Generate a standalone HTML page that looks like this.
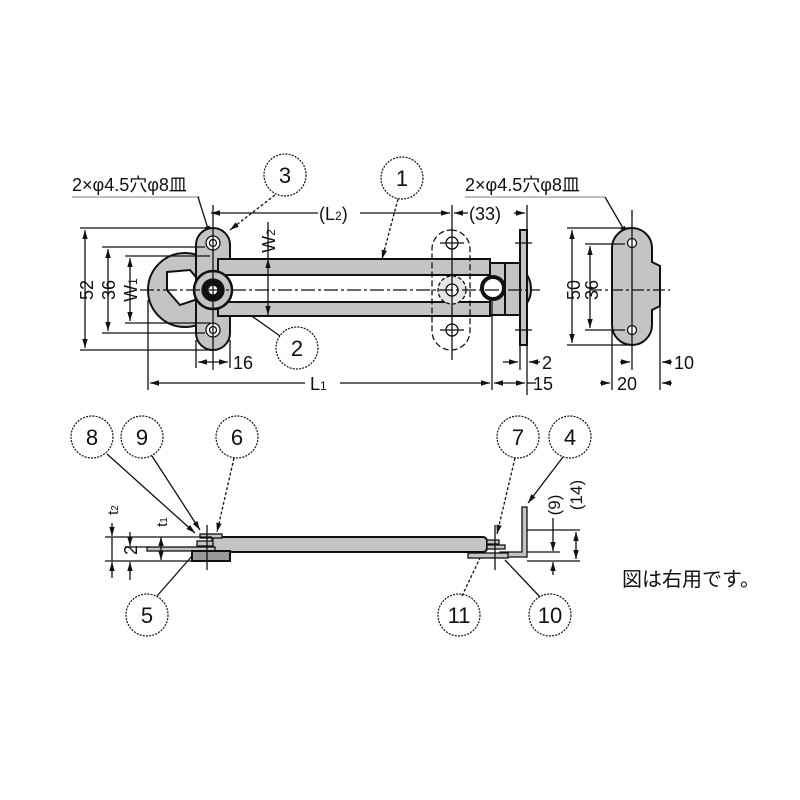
<!DOCTYPE html>
<html><head><meta charset="utf-8"><style>
html,body{margin:0;padding:0;background:#fff;}
svg{display:block;}
text{font-family:"Liberation Sans","Noto Sans CJK JP",sans-serif;fill:#111;}
</style></head><body>
<svg width="800" height="800" viewBox="0 0 800 800" xmlns="http://www.w3.org/2000/svg">
<defs>
<marker id="a" viewBox="0 0 10 10" refX="10" refY="5" markerWidth="7" markerHeight="7" orient="auto-start-reverse"><path d="M0,2 L10,5 L0,8z" fill="#111"/></marker>
</defs>
<g stroke="#111" fill="none" stroke-width="1.3">
<g stroke-dasharray="2,1.2" stroke-width="1.2">
<circle cx="285" cy="175" r="21"/><circle cx="402" cy="178" r="21"/><circle cx="297" cy="348" r="21"/>
<circle cx="92" cy="437" r="21"/><circle cx="142" cy="437" r="21"/><circle cx="237" cy="437" r="21"/>
<circle cx="518" cy="437" r="21"/><circle cx="570" cy="437" r="21"/>
<circle cx="147" cy="615" r="21"/><circle cx="459" cy="615" r="21"/><circle cx="550" cy="615" r="21"/>
</g>
<line x1="72" y1="197" x2="200" y2="197" stroke="#999"/>
<line x1="198" y1="197" x2="210" y2="235" marker-end="url(#a)"/>
<line x1="275" y1="195" x2="230" y2="230" marker-end="url(#a)" stroke-dasharray="3,2"/>
<line x1="398" y1="199" x2="382" y2="259" marker-end="url(#a)" stroke-dasharray="3,2"/>
<line x1="280" y1="336" x2="232" y2="302" marker-end="url(#a)"/>
<line x1="465" y1="197" x2="605" y2="197" stroke="#999"/>
<line x1="605" y1="197" x2="627" y2="235" marker-end="url(#a)"/>

<g stroke-width="2">
<circle cx="185" cy="290" r="37" fill="#c4c4c4"/>
<path d="M167,272 L190,270 L200,282 L195,300 L180,305 L172,296 L167,290z" fill="#fff"/>
<rect x="196" y="228" width="34" height="122" rx="17" fill="#c4c4c4"/>
<rect x="218" y="259" width="272" height="57" fill="#c4c4c4"/>
<rect x="218" y="275" width="272" height="27" fill="#fff"/>
<path d="M490,263 L505,263 A26,26 0 0 1 505,315 L490,315z" fill="#c4c4c4"/>
<rect x="505" y="263" width="15" height="52" fill="#c4c4c4"/>
<rect x="520" y="230" width="7" height="115" fill="#c4c4c4"/>
</g>
<circle cx="493" cy="288" r="11" stroke-width="4" fill="#fff"/>
<circle cx="213" cy="290" r="19" fill="#c4c4c4" stroke-width="2.5"/>
<circle cx="213" cy="290" r="11" fill="#111"/>
<circle cx="213" cy="290" r="5" fill="#fff"/>
<circle cx="213" cy="243" r="7" fill="#fff"/><circle cx="213" cy="243" r="3.5"/>
<circle cx="213" cy="330" r="7" fill="#fff"/><circle cx="213" cy="330" r="3.5"/>
<rect x="432" y="230" width="38" height="120" rx="19" stroke-dasharray="6,3"/>
<circle cx="452" cy="243" r="6"/><circle cx="452" cy="330" r="6"/>
<circle cx="452" cy="290" r="14" stroke-dasharray="4,2" fill="#e6e6e6"/>
<circle cx="452" cy="290" r="6" fill="#fff"/>
<line x1="140" y1="290" x2="540" y2="290" stroke-dasharray="14,3,3,3"/>
<line x1="213" y1="205" x2="213" y2="370"/>
<line x1="452" y1="205" x2="452" y2="360"/>
<line x1="440" y1="243" x2="464" y2="243"/><line x1="440" y1="330" x2="464" y2="330"/>
<line x1="515" y1="243" x2="532" y2="243"/><line x1="515" y1="330" x2="532" y2="330"/>

<line x1="80" y1="228" x2="213" y2="228"/><line x1="80" y1="350" x2="213" y2="350"/>
<line x1="85" y1="230" x2="85" y2="348" marker-start="url(#a)" marker-end="url(#a)"/>
<line x1="102" y1="247" x2="205" y2="247"/><line x1="102" y1="333" x2="205" y2="333"/>
<line x1="108" y1="249" x2="108" y2="331" marker-start="url(#a)" marker-end="url(#a)"/>
<line x1="125" y1="256" x2="210" y2="256"/><line x1="125" y1="323" x2="210" y2="323"/>
<line x1="130" y1="258" x2="130" y2="321" marker-start="url(#a)" marker-end="url(#a)"/>
<line x1="268" y1="259" x2="268" y2="315" marker-start="url(#a)" marker-end="url(#a)"/>
<line x1="268" y1="222" x2="268" y2="259"/>
<line x1="211" y1="213" x2="318" y2="213" marker-start="url(#a)"/><line x1="360" y1="213" x2="450" y2="213" marker-end="url(#a)"/>
<line x1="454" y1="213" x2="468" y2="213" marker-start="url(#a)"/><line x1="514" y1="213" x2="525" y2="213" marker-end="url(#a)"/>
<line x1="527" y1="205" x2="527" y2="395"/>
<line x1="196" y1="340" x2="196" y2="368"/><line x1="230" y1="340" x2="230" y2="368"/>
<line x1="198" y1="362" x2="228" y2="362" marker-start="url(#a)" marker-end="url(#a)"/>
<line x1="148" y1="300" x2="148" y2="390"/>
<line x1="492" y1="300" x2="492" y2="390"/>
<line x1="520" y1="345" x2="520" y2="370"/>
<line x1="150" y1="383" x2="305" y2="383" marker-start="url(#a)"/><line x1="340" y1="383" x2="490" y2="383" marker-end="url(#a)"/>
<line x1="494" y1="383" x2="525" y2="383" marker-start="url(#a)" marker-end="url(#a)"/><line x1="527" y1="383" x2="536" y2="383"/>
<line x1="503" y1="362" x2="518" y2="362" marker-end="url(#a)"/><line x1="540" y1="362" x2="529" y2="362" marker-end="url(#a)"/>

<path d="M632,228 A20,20 0 0 1 652,248 L652,262 L660,266 L660,306 L652,310 L652,325 A20,20 0 0 1 632,345 A20,20 0 0 1 612,325 L612,248 A20,20 0 0 1 632,228z" fill="#c4c4c4" stroke-width="2"/>
<circle cx="632" cy="243" r="4.5" fill="#fff"/><circle cx="632" cy="330" r="4.5" fill="#fff"/>
<line x1="590" y1="290" x2="670" y2="290" stroke-dasharray="12,3,3,3"/>
<line x1="632" y1="210" x2="632" y2="370"/>
<line x1="567" y1="228" x2="632" y2="228"/><line x1="567" y1="345" x2="632" y2="345"/>
<line x1="572" y1="230" x2="572" y2="343" marker-start="url(#a)" marker-end="url(#a)"/>
<line x1="585" y1="244" x2="625" y2="244"/><line x1="585" y1="330" x2="625" y2="330"/>
<line x1="590" y1="246" x2="590" y2="328" marker-start="url(#a)" marker-end="url(#a)"/>
<line x1="612" y1="330" x2="612" y2="390"/><line x1="660" y1="300" x2="660" y2="390"/>
<line x1="620" y1="362" x2="630" y2="362" marker-end="url(#a)"/><line x1="672" y1="362" x2="662" y2="362" marker-end="url(#a)"/>
<line x1="600" y1="383" x2="610" y2="383" marker-end="url(#a)"/><line x1="672" y1="383" x2="662" y2="383" marker-end="url(#a)"/>

<rect x="212" y="537" width="275" height="15" rx="4" fill="#c4c4c4" stroke-width="2"/>
<rect x="147" y="547" width="68" height="4" fill="#c4c4c4"/>
<rect x="192" y="551" width="38" height="10" fill="#999" stroke-width="2"/>
<rect x="197" y="541" width="16" height="5" fill="#c4c4c4"/>
<rect x="200" y="534" width="22" height="4" fill="#c4c4c4"/>
<line x1="207" y1="525" x2="207" y2="570"/>
<path d="M522,507 L527,507 L527,557 L500,557 L500,552 L522,552z" fill="#c4c4c4"/>
<rect x="468" y="553" width="40" height="5" fill="#c4c4c4"/>
<rect x="487" y="540" width="12" height="4" fill="#c4c4c4"/>
<rect x="487" y="545" width="18" height="4" fill="#c4c4c4"/>
<line x1="495" y1="525" x2="495" y2="570"/>
<line x1="107" y1="454" x2="195" y2="533" marker-end="url(#a)"/>
<line x1="152" y1="456" x2="200" y2="530" marker-end="url(#a)"/>
<line x1="234" y1="458" x2="217" y2="532" marker-end="url(#a)" stroke-dasharray="3,2"/>
<line x1="157" y1="596" x2="192" y2="556"/>
<line x1="515" y1="458" x2="497" y2="534" marker-end="url(#a)" stroke-dasharray="3,2"/>
<line x1="563" y1="457" x2="528" y2="503" marker-end="url(#a)"/>
<line x1="462" y1="596" x2="480" y2="558" stroke-dasharray="3,2"/>
<line x1="540" y1="597" x2="505" y2="560"/>
<line x1="105" y1="537" x2="212" y2="537"/><line x1="125" y1="547" x2="150" y2="547"/><line x1="105" y1="561" x2="195" y2="561"/>
<line x1="112" y1="523" x2="112" y2="536" marker-end="url(#a)"/><line x1="112" y1="578" x2="112" y2="562" marker-end="url(#a)"/><line x1="112" y1="537" x2="112" y2="561"/>
<line x1="130" y1="532" x2="130" y2="546" marker-end="url(#a)"/><line x1="130" y1="580" x2="130" y2="562" marker-end="url(#a)"/>
<line x1="161" y1="537" x2="161" y2="560" marker-start="url(#a)" marker-end="url(#a)"/>
<line x1="527" y1="530" x2="580" y2="530"/><line x1="527" y1="552" x2="560" y2="552"/><line x1="527" y1="561" x2="580" y2="561"/>
<line x1="553" y1="518" x2="553" y2="551" marker-end="url(#a)"/><line x1="553" y1="575" x2="553" y2="562" marker-end="url(#a)"/>
<line x1="576" y1="532" x2="576" y2="559" marker-start="url(#a)" marker-end="url(#a)"/>
</g>
<g font-size="22" text-anchor="middle">
<text x="285" y="183">3</text><text x="402" y="186">1</text><text x="297" y="356">2</text>
<text x="92" y="445">8</text><text x="142" y="445">9</text><text x="237" y="445">6</text>
<text x="518" y="445">7</text><text x="570" y="445">4</text>
<text x="147" y="623">5</text><text x="459" y="623">11</text><text x="550" y="623">10</text>
</g>
<g font-size="18">
<text x="72" y="191">2×φ4.5穴φ8皿</text>
<text x="465" y="191">2×φ4.5穴φ8皿</text>
<text x="319" y="220">(L<tspan font-size="12">2</tspan>)</text>
<text x="469" y="220">(33)</text>
<text x="233" y="369">16</text>
<text x="310" y="390">L<tspan font-size="12">1</tspan></text>
<text x="542" y="369">2</text>
<text x="533" y="390">15</text>
<text x="674" y="369">10</text>
<text x="617" y="390">20</text>
<text transform="translate(93,290) rotate(-90)" text-anchor="middle">52</text>
<text transform="translate(115,290) rotate(-90)" text-anchor="middle">36</text>
<text transform="translate(137,290) rotate(-90)" text-anchor="middle">W<tspan font-size="12">1</tspan></text>
<text transform="translate(275,241) rotate(-90)" text-anchor="middle">W<tspan font-size="12">2</tspan></text>
<text transform="translate(580,290) rotate(-90)" text-anchor="middle">50</text>
<text transform="translate(598,290) rotate(-90)" text-anchor="middle">36</text>
<text transform="translate(137,550) rotate(-90)" text-anchor="middle">2</text>
<text transform="translate(118,510) rotate(-90)" text-anchor="middle" font-size="15">t<tspan font-size="10">2</tspan></text>
<text transform="translate(167,522) rotate(-90)" text-anchor="middle" font-size="15">t<tspan font-size="10">1</tspan></text>
<text transform="translate(560,505) rotate(-90)" text-anchor="middle" font-size="17">(9)</text>
<text transform="translate(582,495) rotate(-90)" text-anchor="middle" font-size="17">(14)</text>
</g>
<text x="622" y="586" font-size="20">図は右用です。</text>
</svg>
</body></html>
